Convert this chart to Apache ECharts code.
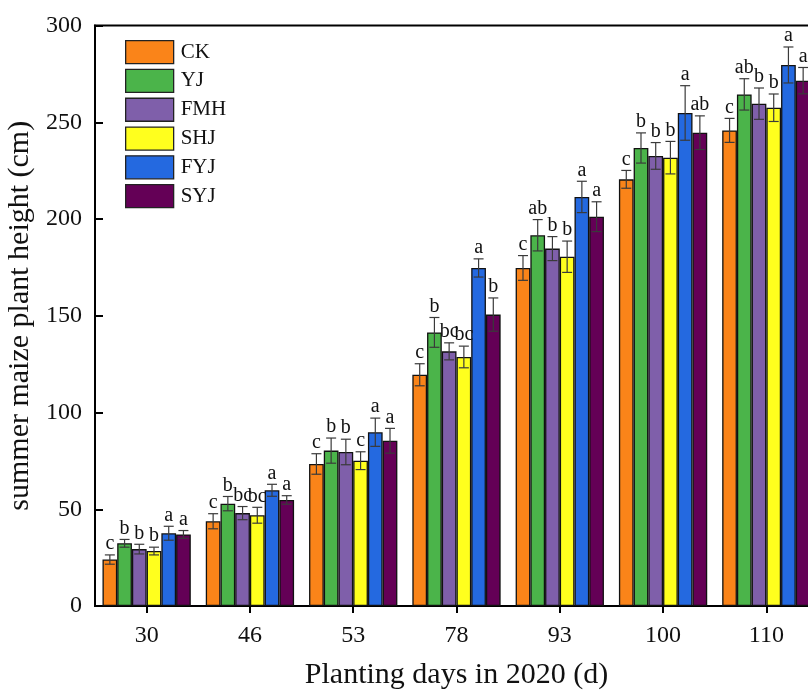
<!DOCTYPE html>
<html>
<head>
<meta charset="utf-8">
<script src="https://cdn.jsdelivr.net/npm/echarts@6/dist/echarts.min.js"></script>
<style>
html,body{margin:0;padding:0;overflow:hidden;background:#fff;}
#c{width:808px;height:694px;}
</style>
</head>
<body>
<div id="c"></div>
<script>
var categories = ['30','46','53','78','93','100','110'];
var seriesNames = ['CK','YJ','FMH','SHJ','FYJ','SYJ'];
var colors = ['#FA8419','#4BB44A','#7F5FAA','#FFFF1E','#2469E0','#640056'];

var CK  = [24.0, 43.8, 73.4, 119.5, 174.7, 220.5, 245.8];
var YJ  = [32.4, 52.9, 80.3, 141.4, 191.6, 236.7, 264.4];
var FMH = [29.4, 48.0, 79.6, 131.6, 184.7, 232.6, 259.6];
var SHJ = [28.4, 46.9, 75.1, 128.7, 180.5, 231.7, 257.5];
var FYJ = [37.6, 59.8, 89.8, 174.7, 211.4, 254.8, 279.6];
var SYJ = [37.0, 54.8, 85.4, 150.6, 201.2, 244.6, 271.5];

var CK_err  = [2.4, 3.9, 5.3, 5.7, 6.4, 4.6, 6.2];
var YJ_err  = [2.0, 3.7, 6.5, 7.7, 8.1, 7.8, 8.1];
var FMH_err = [2.5, 3.4, 6.6, 4.4, 6.2, 6.9, 8.1];
var SHJ_err = [2.0, 4.1, 4.6, 5.6, 8.1, 8.4, 7.1];
var FYJ_err = [3.6, 3.1, 7.3, 4.7, 8.1, 14.1, 9.3];
var SYJ_err = [2.0, 2.2, 6.4, 8.6, 7.7, 8.7, 6.8];

var CK_sig  = ['c','c','c','c','c','c','c'];
var YJ_sig  = ['b','b','b','b','ab','b','ab'];
var FMH_sig = ['b','bc','b','bc','b','b','b'];
var SHJ_sig = ['b','bc','c','bc','b','b','b'];
var FYJ_sig = ['a','a','a','a','a','a','a'];
var SYJ_sig = ['a','a','a','b','a','ab','a'];

var yTicks = [0, 50, 100, 150, 200, 250, 300];

var values = [CK, YJ, FMH, SHJ, FYJ, SYJ];
var errors = [CK_err, YJ_err, FMH_err, SHJ_err, FYJ_err, SYJ_err];
var sigs = [CK_sig, YJ_sig, FMH_sig, SHJ_sig, FYJ_sig, SYJ_sig];

var GAP = 0.145;
var FONT = '"Liberation Serif","DejaVu Serif",serif';

var series = [];
seriesNames.forEach(function(name, i){
  series.push({
    name: name,
    type: 'bar',
    data: values[i],
    barGap: '0%',
    barCategoryGap: (GAP*100) + '%',
    itemStyle: {color: colors[i], borderColor: '#111', borderWidth: 1.3},
    z: 2
  });
});
seriesNames.forEach(function(name, i){
  var data = categories.map(function(c, k){ return [k, values[i][k], errors[i][k], sigs[i][k]]; });
  series.push({
    type: 'custom',
    name: name + '_err',
    data: data,
    z: 5,
    silent: true,
    clip: false,
    encode: {x: 0, y: 1},
    renderItem: function(params, api){
      var k = api.value(0), v = api.value(1), e = api.value(2);
      var sig = data[params.dataIndex][3];
      var band = api.size([1, 0])[0];
      var bw = band * (1 - GAP) / 6;
      var c = api.coord([k, v]);
      var cx = c[0] + (i - 2.5) * bw;
      var yHi = api.coord([k, v + e])[1];
      var yLo = api.coord([k, v - e])[1];
      var cap = 5;
      var st = {stroke: '#3a3a3a', lineWidth: 1.2};
      return {
        type: 'group',
        children: [
          {type: 'line', shape: {x1: cx, y1: yHi, x2: cx, y2: yLo}, style: st},
          {type: 'line', shape: {x1: cx - cap, y1: yHi, x2: cx + cap, y2: yHi}, style: st},
          {type: 'line', shape: {x1: cx - cap, y1: yLo, x2: cx + cap, y2: yLo}, style: st},
          {type: 'text', x: cx, y: yHi - 1, style: {text: sig, fill: '#111', font: '20px ' + FONT, textAlign: 'center', textVerticalAlign: 'bottom'}}
        ]
      };
    }
  });
});

var chart = echarts.init(document.getElementById('c'), null, {renderer: 'canvas'});
chart.setOption({
  animation: false,
  backgroundColor: '#fff',
  textStyle: {fontFamily: FONT},
  grid: {left: 95, top: 25.5, bottom: 88, right: -10, containLabel: false, outerBoundsMode: 'none',
    show: true, borderColor: '#000', borderWidth: 2, backgroundColor: 'transparent'},
  legend: {
    data: seriesNames,
    orient: 'vertical',
    left: 120,
    top: 35,
    itemWidth: 48,
    itemHeight: 23,
    itemGap: 4.5,
    textStyle: {fontFamily: FONT, fontSize: 21, color: '#111', padding: [0, 0, 0, 2]},
    icon: 'rect',
    itemStyle: {borderColor: '#222', borderWidth: 1.3}
  },
  xAxis: {
    type: 'category',
    data: categories,
    axisLine: {lineStyle: {color: '#000', width: 2}},
    axisTick: {show: true, alignWithLabel: true, inside: false, length: 7, lineStyle: {color: '#000', width: 2}},
    axisLabel: {fontFamily: FONT, fontSize: 24, color: '#111', margin: 18},
    name: 'Planting days in 2020 (d)',
    nameLocation: 'middle',
    nameGap: 54,
    nameTextStyle: {fontFamily: FONT, fontSize: 30, color: '#111'}
  },
  yAxis: {
    type: 'value',
    min: 0,
    max: 300,
    interval: 50,
    axisLine: {show: true, lineStyle: {color: '#000', width: 2}},
    axisTick: {show: true, inside: true, length: 8, lineStyle: {color: '#000', width: 2}},
    splitLine: {show: false},
    axisLabel: {fontFamily: FONT, fontSize: 24, color: '#111', margin: 13,
      formatter: function(v){ return yTicks.indexOf(v) >= 0 ? String(v) : ''; }},
    name: 'summer maize plant height (cm)',
    nameLocation: 'middle',
    nameGap: 53,
    nameTextStyle: {fontFamily: FONT, fontSize: 30, color: '#111'}
  },
  series: series
});
</script>
</body>
</html>
